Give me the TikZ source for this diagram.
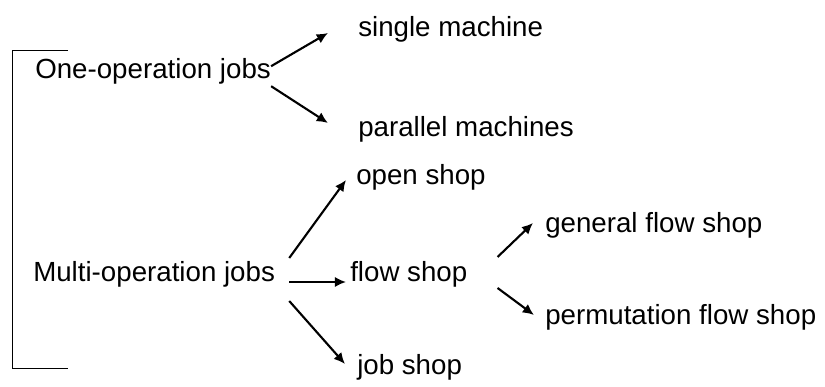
\documentclass[tikz,border=0pt]{standalone}
\usepackage{fontspec}
\setmainfont{Liberation Sans}
\usetikzlibrary{arrows.meta}
\tikzset{%
  >={Latex[width=2.6mm,length=2.8mm]},
  % Specifications for style of nodes:
  jobtext/.style = {inner sep=0pt, anchor=base west,
                    font=\fontsize{19.7}{24}\selectfont},
   branch/.style = {->, line width=1.5pt},
}

\begin{document}
\begin{tikzpicture}
  \useasboundingbox (0,0) rectangle (20.625,9.675);

  % Specification of nodes (position, etc.)
  \node (one)      [jobtext] at (0.875,7.72)   {One-operation jobs};
  \node (multi)    [jobtext] at (0.825,2.625)  {Multi-operation jobs};
  \node (single)   [jobtext] at (8.95,8.75)    {single machine};
  \node (parallel) [jobtext] at (8.95,6.25)    {parallel machines};
  \node (open)     [jobtext] at (8.9,5.05)     {open shop};
  \node (flow)     [jobtext] at (8.75,2.625)   {flow shop};
  \node (job)      [jobtext] at (8.925,0.3)    {job shop};
  \node (general)  [jobtext] at (13.625,3.85)  {general flow shop};
  \node (perm)     [jobtext] at (13.625,1.55)  {permutation flow shop};

  % bracket round the two job kinds
  \draw[line width=0.7pt] (1.7,8.41) -| (0.3,0.475) -- (1.7,0.475);

  % Specification of lines between nodes specified above
  \draw[branch] ([yshift=0.3cm]one.base east)
             -- ([xshift=-0.75cm,yshift=0.1cm]single.base west);
  \draw[branch] ([yshift=-0.2cm]one.base east)
             -- ([xshift=-0.75cm,yshift=0.35cm]parallel.base west);
  \draw[branch] ([xshift=0.35cm,yshift=0.6cm]multi.base east)
             -- ([xshift=-0.25cm,yshift=0.125cm]open.base west);
  \draw[branch] ([xshift=0.35cm,yshift=0cm]multi.base east)
             -- ([xshift=-0.1cm,yshift=0cm]flow.base west);
  \draw[branch] ([xshift=0.35cm,yshift=-0.475cm]multi.base east)
             -- ([xshift=-0.3cm,yshift=0.275cm]job.base west);
  \draw[branch] ([xshift=0.75cm,yshift=0.625cm]flow.base east)
             -- ([xshift=-0.3cm,yshift=0.25cm]general.base west);
  \draw[branch] ([xshift=0.75cm,yshift=-0.15cm]flow.base east)
             -- ([xshift=-0.275cm,yshift=0.25cm]perm.base west);
\end{tikzpicture}
\end{document}
